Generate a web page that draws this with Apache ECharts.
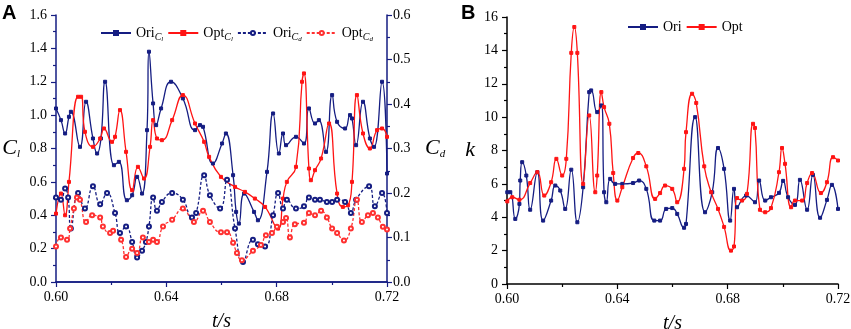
<!DOCTYPE html>
<html>
<head>
<meta charset="utf-8">
<script src="https://cdn.jsdelivr.net/npm/echarts@6/dist/echarts.min.js"></script>
<style>
  html, body { margin: 0; padding: 0; background: #fff; }
  #main { width: 851px; height: 329px; }
</style>
</head>
<body>
<div id="main"></div>
<script>
// ---- panel A: lift / drag coefficients ----
var tOriCl = [0.6000,0.6018,0.6033,0.6047,0.6054,0.6087,0.6109,0.6134,0.6149,0.6163,0.6178,0.6210,0.6228,0.6257,0.6276,0.6294,0.6312,0.6330,0.6337,0.6352,0.6363,0.6381,0.6417,0.6460,0.6504,0.6522,0.6533,0.6569,0.6602,0.6616,0.6642,0.6653,0.6663,0.6682,0.6718,0.6732,0.6765,0.6787,0.6808,0.6823,0.6834,0.6870,0.6899,0.6917,0.6939,0.6953,0.6979,0.7001,0.7019,0.7048,0.7066,0.7073,0.7088,0.7113,0.7138,0.7153,0.7182,0.7200]
var oriCl = [1.04,0.97,0.89,0.99,1.02,0.81,1.08,0.86,0.77,0.86,1.20,0.70,0.72,0.49,0.52,0.63,0.53,0.91,1.38,1.07,0.94,1.04,1.20,1.10,0.91,0.94,0.93,0.71,0.83,0.89,0.64,0.42,0.35,0.53,0.42,0.37,0.66,1.01,0.77,0.89,0.82,0.87,0.83,1.04,0.95,0.97,0.78,1.12,0.96,0.92,1.00,0.98,0.82,1.08,0.86,0.81,1.20,0.65]

var tOptCl = [0.6000,0.6018,0.6033,0.6047,0.6080,0.6091,0.6105,0.6134,0.6160,0.6174,0.6203,0.6214,0.6232,0.6254,0.6276,0.6297,0.6319,0.6341,0.6352,0.6366,0.6384,0.6421,0.6460,0.6504,0.6537,0.6555,0.6598,0.6649,0.6685,0.6721,0.6758,0.6805,0.6823,0.6837,0.6870,0.6892,0.6899,0.6917,0.6924,0.6939,0.6961,0.6990,0.7019,0.7040,0.7059,0.7073,0.7091,0.7113,0.7138,0.7164,0.7182,0.7200]
var optCl = [0.41,0.53,0.40,0.60,1.11,1.11,0.90,0.81,0.86,0.92,0.84,0.87,1.03,0.78,0.55,0.69,0.62,0.81,0.97,0.86,0.85,0.97,1.12,0.95,0.84,0.75,0.63,0.57,0.54,0.50,0.45,0.32,0.50,0.60,0.69,1.20,1.25,0.68,0.61,0.67,0.74,0.95,0.53,0.45,0.46,0.60,1.12,0.89,0.80,0.91,0.92,0.87]

var tOriCd = [0.6000,0.6018,0.6033,0.6044,0.6054,0.6080,0.6105,0.6134,0.6160,0.6185,0.6214,0.6232,0.6254,0.6276,0.6294,0.6312,0.6326,0.6337,0.6352,0.6366,0.6384,0.6421,0.6460,0.6493,0.6508,0.6537,0.6558,0.6595,0.6620,0.6649,0.6678,0.6714,0.6732,0.6758,0.6787,0.6805,0.6823,0.6837,0.6870,0.6899,0.6917,0.6939,0.6957,0.6982,0.7001,0.7019,0.7048,0.7069,0.7088,0.7135,0.7156,0.7182,0.7200]
var oriCd = [0.19,0.185,0.21,0.19,0.12,0.20,0.165,0.215,0.175,0.20,0.155,0.11,0.125,0.09,0.055,0.07,0.09,0.125,0.19,0.16,0.18,0.20,0.185,0.145,0.155,0.24,0.195,0.165,0.23,0.12,0.045,0.095,0.085,0.08,0.15,0.20,0.165,0.185,0.165,0.17,0.19,0.185,0.185,0.18,0.18,0.185,0.18,0.155,0.185,0.215,0.17,0.20,0.155]

var tOptCd = [0.6000,0.6018,0.6040,0.6051,0.6065,0.6076,0.6087,0.6109,0.6131,0.6160,0.6170,0.6196,0.6207,0.6236,0.6254,0.6276,0.6294,0.6315,0.6337,0.6352,0.6366,0.6388,0.6421,0.6460,0.6500,0.6533,0.6558,0.6598,0.6620,0.6642,0.6656,0.6674,0.6714,0.6743,0.6761,0.6783,0.6801,0.6823,0.6834,0.6848,0.6866,0.6899,0.6917,0.6939,0.6961,0.6982,0.7001,0.7019,0.7044,0.7069,0.7091,0.7109,0.7131,0.7149,0.7167,0.7185,0.7200]
var optCd = [0.08,0.10,0.095,0.12,0.165,0.19,0.185,0.135,0.15,0.145,0.125,0.11,0.115,0.095,0.056,0.075,0.065,0.10,0.09,0.095,0.09,0.125,0.14,0.165,0.135,0.16,0.135,0.112,0.112,0.088,0.065,0.049,0.07,0.083,0.105,0.11,0.124,0.135,0.144,0.10,0.13,0.133,0.155,0.15,0.16,0.145,0.12,0.11,0.093,0.12,0.185,0.135,0.15,0.155,0.145,0.124,0.118]

// ---- panel B: k ----
var tOriK = [0.6001,0.6012,0.6030,0.6045,0.6048,0.6055,0.6070,0.6084,0.6110,0.6131,0.6160,0.6175,0.6193,0.6211,0.6233,0.6255,0.6276,0.6298,0.6305,0.6327,0.6342,0.6352,0.6360,0.6374,0.6392,0.6418,0.6457,0.6479,0.6505,0.6534,0.6555,0.6577,0.6599,0.6617,0.6642,0.6649,0.6682,0.6718,0.6744,0.6765,0.6787,0.6809,0.6823,0.6834,0.6867,0.6899,0.6914,0.6936,0.6957,0.6986,0.7001,0.7019,0.7044,0.7062,0.7088,0.7109,0.7135,0.7160,0.7178,0.7200]
var oriK = [5.5,5.5,3.9,4.8,6.2,7.3,6.5,4.45,6.7,3.8,5.0,5.9,5.6,4.5,6.85,3.7,5.8,11.5,11.6,10.3,10.7,5.5,4.9,6.3,6.0,6.0,6.05,6.2,5.7,3.8,3.8,4.5,4.55,4.2,3.37,3.6,10.0,4.3,5.5,8.15,6.9,3.8,5.7,4.6,5.3,4.9,6.2,5.0,5.2,5.46,6.18,5.2,4.74,6.24,4.45,6.54,3.97,5.04,5.94,4.5]

var tOptK = [0.6001,0.6019,0.6045,0.6084,0.6110,0.6135,0.6160,0.6179,0.6200,0.6215,0.6233,0.6244,0.6255,0.6276,0.6298,0.6320,0.6327,0.6342,0.6352,0.6371,0.6385,0.6400,0.6418,0.6457,0.6476,0.6505,0.6537,0.6555,0.6573,0.6599,0.6617,0.6642,0.6649,0.6671,0.6686,0.6715,0.6740,0.6765,0.6787,0.6812,0.6823,0.6834,0.6852,0.6870,0.6892,0.6899,0.6917,0.6936,0.6957,0.6986,0.6997,0.7008,0.7030,0.7044,0.7070,0.7088,0.7106,0.7138,0.7160,0.7182,0.7200]
var optK = [4.95,5.2,5.05,6.05,6.7,5.3,6.1,7.5,6.5,7.5,13.85,15.4,13.85,6.0,10.1,5.5,6.5,11.5,10.6,9.6,6.65,5.0,5.8,7.55,7.85,7.05,5.1,5.45,5.9,5.7,4.9,6.9,9.1,11.4,10.85,7.05,5.5,4.5,3.42,2.0,2.25,5.15,5.0,5.4,9.6,9.35,4.45,4.3,4.55,6.7,8.15,7.2,4.6,5.0,5.0,6.05,6.65,5.45,6.1,7.6,7.4]

function pairs (t, v) {
  var out = []
  for (var i = 0; i < t.length; i++) out.push([t[i], v[i]])
  return out
}

var navy = '#151d82'
var red = '#ff1414'
var serif = 'Liberation Serif'

var chart = echarts.init(document.getElementById('main'))

function timeAxis (grid, color) {
  return {
    type: 'value', gridIndex: grid, min: 0.6, max: 0.72, interval: 0.04,
    name: 't/s', nameLocation: 'middle', nameGap: 30,
    nameTextStyle: { fontFamily: serif, fontStyle: 'italic', fontSize: 20, color: '#000' },
    axisLine: { show: true, onZero: false, lineStyle: { color: color, width: 1.5 } },
    axisTick: { show: true, length: 5, lineStyle: { color: color, width: 1.2 } },
    minorTick: { show: true, splitNumber: 2, length: 3, lineStyle: { color: color, width: 1.2 } },
    splitLine: { show: false },
    axisLabel: { fontFamily: serif, fontSize: 14, color: '#000', margin: 8,
      formatter: function (v) { return v.toFixed(2) } }
  }
}

function valueAxis (grid, min, max, step, digits, color, pos) {
  return {
    type: 'value', gridIndex: grid, min: min, max: max, interval: step, position: pos,
    axisLine: { show: true, onZero: false, lineStyle: { color: color, width: 1.5 } },
    axisTick: { show: true, length: 5, lineStyle: { color: color, width: 1.2 } },
    minorTick: { show: true, splitNumber: 2, length: 3, lineStyle: { color: color, width: 1.2 } },
    splitLine: { show: false },
    axisLabel: { fontFamily: serif, fontSize: 14, color: '#000', margin: pos === 'right' ? 6 : 9,
      formatter: function (v) { return v.toFixed(digits) } }
  }
}

var topBorder = {
  type: 'value', gridIndex: 0, position: 'top', min: 0.6, max: 0.72,
  axisLine: { show: true, lineStyle: { color: navy, width: 1.5 } },
  axisTick: { show: false }, axisLabel: { show: false }, splitLine: { show: false }
}

var yCl = valueAxis(0, 0, 1.6, 0.2, 1, navy, 'left')
yCl.name = '{c|C}{s|l}'
yCl.nameLocation = 'middle'
yCl.nameGap = 36
yCl.nameRotate = 0
yCl.nameTextStyle = { rich: {
  c: { fontFamily: serif, fontStyle: 'italic', fontSize: 22, color: '#000' },
  s: { fontFamily: serif, fontStyle: 'italic', fontSize: 11, color: '#000', padding: [12, 0, 0, 0] }
} }

var yCd = valueAxis(0, 0, 0.6, 0.1, 1, navy, 'right')
yCd.name = '{c|C}{s|d}'
yCd.nameLocation = 'middle'
yCd.nameGap = 38
yCd.nameRotate = 0
yCd.nameTextStyle = { rich: yCl.nameTextStyle.rich }

var yK = valueAxis(1, 0, 16, 2, 0, '#000', 'left')
yK.name = 'k'
yK.nameLocation = 'middle'
yK.nameGap = 32
yK.nameRotate = 0
yK.nameTextStyle = { fontFamily: serif, fontStyle: 'italic', fontSize: 22, color: '#000' }

function line (name, data, color, xi, yi, dashed, symbol) {
  return {
    name: name, type: 'line', xAxisIndex: xi, yAxisIndex: yi,
    data: data, smooth: 0.5, smoothMonotone: null,
    symbol: symbol, symbolSize: symbol === 'rect' ? 3 : 4,
    showAllSymbol: true, animation: false,
    lineStyle: { color: color, width: 1.3, type: dashed ? [3, 2] : 'solid' },
    itemStyle: { color: color, borderColor: color, borderWidth: 1 }
  }
}

var legendText = {
  OriCl: '{m|Ori}{s|C}{ss|l}',
  OptCl: '{m|Opt}{s|C}{ss|l}',
  OriCd: '{m|Ori}{s|C}{ss|d}',
  OptCd: '{m|Opt}{s|C}{ss|d}'
}
var legendRich = {
  m: { fontFamily: serif, fontSize: 14, color: '#000' },
  s: { fontFamily: serif, fontStyle: 'italic', fontSize: 10, color: '#000', padding: [8, 0, 0, 0] },
  ss: { fontFamily: serif, fontStyle: 'italic', fontSize: 7, color: '#000', padding: [12, 0, 0, 0] }
}

var option = {
  animation: false,
  backgroundColor: '#fff',
  grid: [
    { left: 56, right: 464, top: 15, bottom: 47, outerBoundsMode: 'none', containLabel: false },
    { left: 507, right: 13, top: 17, bottom: 45, outerBoundsMode: 'none', containLabel: false }
  ],
  xAxis: [timeAxis(0, navy), timeAxis(1, '#000'), topBorder],
  yAxis: [yCl, yCd, yK],
  legend: [
    {
      data: ['OriCl', 'OptCl', 'OriCd', 'OptCd'], left: 95, top: 21,
      itemWidth: 30, itemHeight: 5, itemGap: 4,
      formatter: function (n) { return legendText[n] },
      textStyle: { rich: legendRich }
    },
    {
      data: ['Ori', 'Opt'], left: 622, top: 15,
      itemWidth: 30, itemHeight: 5, itemGap: 4,
      textStyle: { fontFamily: serif, fontSize: 14, color: '#000' }
    }
  ],
  graphic: [
    { type: 'text', left: 2, top: 3, style: { text: 'A', font: 'bold 20px Liberation Sans', fill: '#000' } },
    { type: 'text', left: 461, top: 3, style: { text: 'B', font: 'bold 20px Liberation Sans', fill: '#000' } }
  ],
  series: [
    line('OriCl', pairs(tOriCl, oriCl), navy, 0, 0, false, 'rect'),
    line('OptCl', pairs(tOptCl, optCl), red, 0, 0, false, 'rect'),
    line('OriCd', pairs(tOriCd, oriCd), navy, 0, 1, true, 'emptyCircle'),
    line('OptCd', pairs(tOptCd, optCd), '#ff3030', 0, 1, true, 'emptyCircle'),
    line('Ori', pairs(tOriK, oriK), navy, 1, 2, false, 'rect'),
    line('Opt', pairs(tOptK, optK), red, 1, 2, false, 'rect')
  ]
}

chart.setOption(option)
</script>
</body>
</html>
